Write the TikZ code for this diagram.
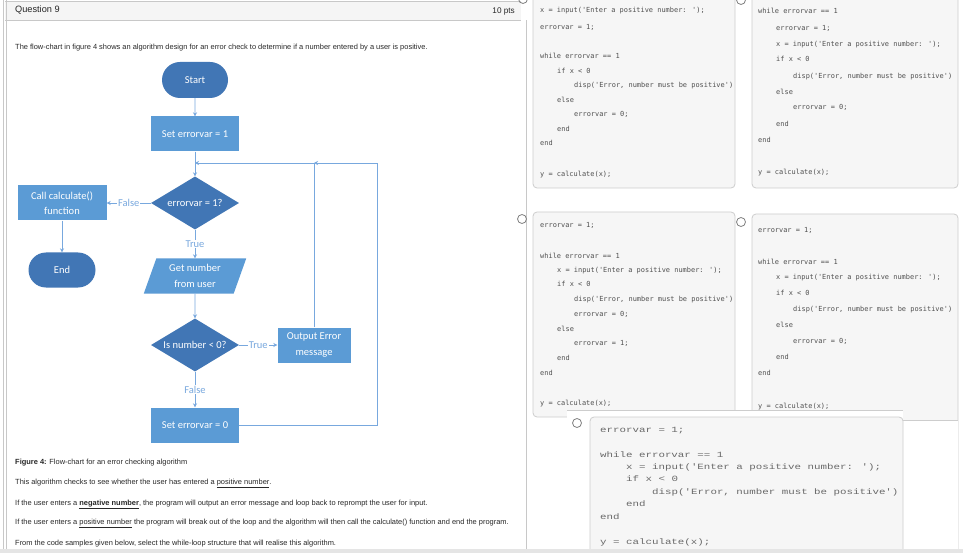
\documentclass[tikz,border=0pt]{standalone}
\usepackage{fontspec}
\setmainfont{Liberation Sans}
\newfontfamily\qfont{Liberation Sans}
\newfontfamily\fcfont{Carlito}
\newfontfamily\cfont{DejaVu Sans Mono}
\newfontfamily\efont[FakeStretch=1.35]{Liberation Mono}
\usetikzlibrary{shapes.geometric,shapes.misc,arrows.meta}
\definecolor{lightbox}{RGB}{91,155,213}
\definecolor{darkbox}{RGB}{65,118,181}
\definecolor{conn}{RGB}{120,168,222}
\definecolor{codetext}{RGB}{80,80,80}
\definecolor{codeEtext}{RGB}{105,105,105}
\definecolor{codefill}{RGB}{246,246,246}
\definecolor{codeline}{RGB}{205,205,205}
\definecolor{bodytext}{RGB}{40,40,40}
\definecolor{headfill}{RGB}{245,245,245}
\definecolor{frame}{RGB}{200,200,200}
\newcommand\cl[4]{\node[codeA] (#1) at (#2,#3) {#4};}
\newcommand\ce[4]{\node[codeE] (#1) at (#2,#3) {#4};}
\begin{document}
\begin{tikzpicture}[x=1pt,y=-1pt,
  fcbox/.style={rectangle, fill=lightbox, text=white, font=\fcfont\fontsize{10.5}{15.5}\selectfont, align=center, inner sep=0pt, minimum width=88, minimum height=35},
  terminal/.style={rounded rectangle, fill=darkbox, text=white, font=\fcfont\fontsize{10.5}{15.5}\selectfont, inner sep=0pt, minimum width=66, minimum height=36},
  decision/.style={diamond, aspect=1.7, fill=darkbox, text=white, font=\fcfont\fontsize{10.5}{15.5}\selectfont, inner sep=0pt, minimum width=88, minimum height=53},
  iobox/.style={trapezium, trapezium left angle=70, trapezium right angle=110, trapezium stretches=true, fill=lightbox, text=white, font=\fcfont\fontsize{10.5}{15.5}\selectfont, align=center, inner sep=0pt, minimum width=103, minimum height=35},
  arr/.style={draw=conn, line width=0.8pt, -{Stealth[length=4pt,width=4pt]}},
  lbl/.style={fill=white, text=conn, font=\fcfont\fontsize{10.5}{12}\selectfont, inner sep=1pt},
  body/.style={anchor=base west, inner sep=0pt, text=bodytext, font=\qfont\fontsize{7.45}{9}\selectfont},
  codebox/.style={draw=codeline, fill=codefill, rounded corners=4pt, line width=0.8pt},
  codeA/.style={anchor=base west, inner sep=0pt, text=codetext, font=\cfont\fontsize{6.95}{9}\selectfont},
  codeE/.style={anchor=base west, inner sep=0pt, text=codeEtext, font=\efont\fontsize{8}{9}\selectfont},
  radio/.style={draw=gray, line width=0.8pt}
]
\useasboundingbox (0,0) rectangle (963,553);
\fill[white] (0,0) rectangle (963,553);

% ---------------- question panel ----------------
\fill[headfill] (5,2) rectangle (521,20);
\draw[frame, line width=0.8pt] (5,1) -- (521,1);
\draw[frame, line width=0.8pt] (5,20.5) -- (521,20.5);
\draw[frame, line width=0.8pt] (3,0) -- (3,553);
\draw[frame, line width=0.8pt] (6,0) -- (6,553);
\draw[frame, line width=0.8pt] (526,20.5) -- (526,549);
\node[anchor=base west, inner sep=0pt, text=black!85, font=\qfont\fontsize{9.2}{11}\selectfont] (q9) at (15,13) {Question 9};
\node[anchor=base east, inner sep=0pt, text=black!85, font=\qfont\fontsize{8.2}{10}\selectfont] (pts) at (515,14) {10 pts};
\node[body] (intro) at (15,49.5) {The flow-chart in figure 4 shows an algorithm design for an error check to determine if a number entered by a user is positive.};

% ---------------- flow chart ----------------
\node[terminal] (start) at (195,80) {Start};
\node[fcbox] (set1) at (195,134) {Set errorvar = 1};
\node[decision] (d1) at (195,203) {errorvar = 1?};
\node[fcbox, minimum width=89] (call) at (62,203) {Call calculate()\\function};
\node[terminal, minimum width=67, minimum height=35] (end) at (62,270) {End};
\node[iobox] (get) at (195,276) {Get number\\from user};
\node[decision] (d2) at (195,345) {Is number < 0?};
\node[fcbox, minimum width=73] (err) at (314,345) {Output Error\\message};
\node[fcbox] (set0) at (195,425) {Set errorvar = 0};
\coordinate (j0) at (195,163);
\coordinate (j1) at (314,163);
\coordinate (rr) at (377,163);

\draw[arr] (start) -- (set1);
\draw[arr] (set1) -- (d1);
\draw[arr] (d1) -- node[lbl]{False} (call);
\draw[arr] (call) -- (end);
\draw[arr] (d1) -- node[lbl]{True} (get);
\draw[arr] (get) -- (d2);
\draw[arr] (d2) -- node[lbl]{True} (err);
\draw[arr] (d2) -- node[lbl]{False} (set0);
\draw[arr] (set0.east) -| (rr) -- (j1);
\draw[arr] (err.north) -- (j1) -- (j0);

% ---------------- text below ----------------
\node[body] (cap) at (15,464.5) {\textbf{Figure 4:} Flow-chart for an error checking algorithm};
\node[body] (p1) at (15,484.5) {This algorithm checks to see whether the user has entered a \underline{positive number}.};
\node[body] (p2) at (15,505.5) {If the user enters a \underline{\textbf{negative number}}, the program will output an error message and loop back to reprompt the user for input.};
\node[body] (p3) at (15,524.5) {If the user enters a \underline{positive number} the program will break out of the loop and the algorithm will then call the calculate() function and end the program.};
\node[body] (p4) at (15,545.5) {From the code samples given below, select the while-loop structure that will realise this algorithm.};

% ---------------- code box A ----------------
\draw[codebox] (533,-10) rectangle (735,188);
\cl{a1}{540}{12.5}{x = input('Enter a positive number: ');}
\cl{a2}{540}{29.5}{errorvar = 1;}
\cl{a3}{540}{58.5}{while errorvar == 1}
\cl{a4}{557}{73.5}{if x < 0}
\cl{a5}{574}{87.5}{disp('Error, number must be positive')}
\cl{a6}{557}{102.5}{else}
\cl{a7}{574}{116.5}{errorvar = 0;}
\cl{a8}{557}{131.5}{end}
\cl{a9}{540}{145.5}{end}
\cl{a10}{540}{176.5}{y = calculate(x);}

% ---------------- code box B ----------------
\draw[codebox] (752,-10) rectangle (958,188);
\cl{b1}{758}{13.5}{while errorvar == 1}
\cl{b2}{776}{30.5}{errorvar = 1;}
\cl{b3}{776}{46.5}{x = input('Enter a positive number: ');}
\cl{b4}{776}{61.5}{if x < 0}
\cl{b5}{793}{78.5}{disp('Error, number must be positive')}
\cl{b6}{776}{94.5}{else}
\cl{b7}{793}{109.5}{errorvar = 0;}
\cl{b8}{776}{126.5}{end}
\cl{b9}{758}{142.5}{end}
\cl{b10}{758}{174.5}{y = calculate(x);}

% ---------------- code box C ----------------
\draw[codebox] (533,212) rectangle (735,417);
\cl{c1}{540}{227.5}{errorvar = 1;}
\cl{c2}{540}{258.5}{while errorvar == 1}
\cl{c3}{557}{272.5}{x = input('Enter a positive number: ');}
\cl{c4}{557}{286.5}{if x < 0}
\cl{c5}{574}{301.5}{disp('Error, number must be positive')}
\cl{c6}{574}{316.5}{errorvar = 0;}
\cl{c7}{557}{331.5}{else}
\cl{c8}{574}{345.5}{errorvar = 1;}
\cl{c9}{557}{360.5}{end}
\cl{c10}{540}{375.5}{end}
\cl{c11}{540}{405.5}{y = calculate(x);}

% ---------------- code box D ----------------
\draw[codebox] (752,214) rectangle (958,600);
\cl{d1c}{758}{232.5}{errorvar = 1;}
\cl{d2c}{758}{264.5}{while errorvar == 1}
\cl{d3c}{776}{279.5}{x = input('Enter a positive number: ');}
\cl{d4c}{776}{295.5}{if x < 0}
\cl{d5c}{793}{311.5}{disp('Error, number must be positive')}
\cl{d6c}{776}{327.5}{else}
\cl{d7c}{793}{343.5}{errorvar = 0;}
\cl{d8c}{776}{359.5}{end}
\cl{d9c}{758}{375.5}{end}
\cl{d10c}{758}{408.5}{y = calculate(x);}
\fill[white] (903,420) rectangle (957.6,549);
\draw[codeline, line width=0.8pt] (903,420) -- (958,420);

% ---------------- code box E ----------------
\fill[white] (567,410) rectangle (903,553);
\draw[codeline, line width=0.8pt] (567,410) -- (903,410);
\draw[codebox] (590,417) rectangle (903,600);
\ce{e1}{600}{432}{errorvar = 1;}
\ce{e2}{600}{457}{while errorvar == 1}
\ce{e3}{626}{469}{x = input('Enter a positive number: ');}
\ce{e4}{626}{481}{if x < 0}
\ce{e5}{652}{494}{disp('Error, number must be positive')}
\ce{e6}{626}{506}{end}
\ce{e7}{600}{519}{end}
\ce{e8}{600}{544}{y = calculate(x);}

% ---------------- radio buttons ----------------
\draw[radio] (523,-1) circle (4.5);
\draw[radio] (741,0) circle (4.5);
\draw[radio] (522,219) circle (4.5);
\draw[radio] (741,222) circle (4.5);
\draw[radio] (577,423) circle (4.5);

% bottom bar
\fill[black!10] (0,549) rectangle (963,553);
\end{tikzpicture}
\end{document}
